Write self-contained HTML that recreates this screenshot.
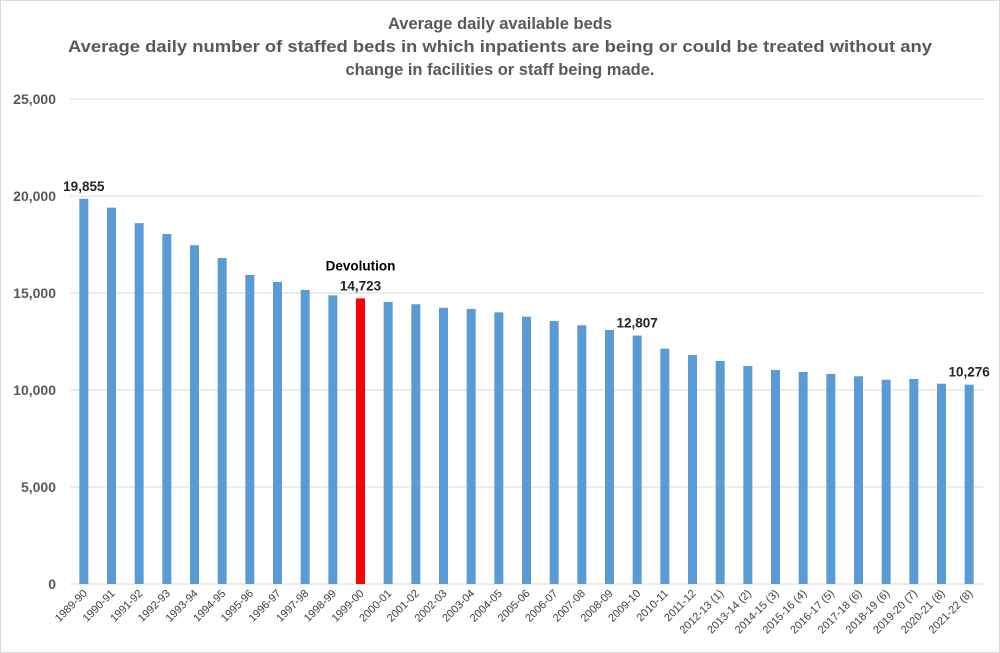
<!DOCTYPE html>
<html><head><meta charset="utf-8"><style>
html,body{margin:0;padding:0;background:#fff;}
svg{display:block;font-family:"Liberation Sans",sans-serif;}
</style></head><body>
<svg id="chart" width="1000" height="653" viewBox="0 0 1000 653">
<rect x="0.5" y="0.5" width="999" height="652" fill="#fff" stroke="#d9d9d9"/>
<g fill="#595959" font-weight="bold" font-size="17" text-anchor="middle">
<text x="500" y="29" textLength="224" lengthAdjust="spacingAndGlyphs">Average daily available beds</text>
<text x="500" y="52" textLength="864" lengthAdjust="spacingAndGlyphs">Average daily number of staffed beds in which inpatients are being or could be treated without any</text>
<text x="500" y="75" textLength="309" lengthAdjust="spacingAndGlyphs">change in facilities or staff being made.</text>
</g>
<g id="grid"></g><g id="bars"></g><g id="labels"></g>
</svg>
<script>
const categories=["1989-90","1990-91","1991-92","1992-93","1993-94","1994-95","1995-96","1996-97","1997-98","1998-99","1999-00","2000-01","2001-02","2002-03","2003-04","2004-05","2005-06","2006-07","2007-08","2008-09","2009-10","2010-11","2011-12","2012-13 (1)","2013-14 (2)","2014-15 (3)","2015-16 (4)","2016-17 (5)","2017-18 (6)","2018-19 (6)","2019-20 (7)","2020-21 (8)","2021-22 (8)"];
const values=[19855,19400,18600,18040,17460,16800,15930,15570,15160,14880,14723,14540,14420,14240,14180,14003,13780,13557,13335,13093,12807,12130,11804,11495,11237,11031,10928,10825,10705,10531,10567,10325,10276];
const yTicks=[0,5000,10000,15000,20000,25000];
const yTickLabels=["0","5,000","10,000","15,000","20,000","25,000"];
const highlightIndex=10;
const annotatedIndices=[0,10,20,32];
const NS="http://www.w3.org/2000/svg";
const X0=70,X1=983,Y0=584,Y1=99,YMAX=25000;
const step=(X1-X0)/categories.length;
function xC(i){return X0+step*(i+0.5);}
function yS(v){return Y0-(v/YMAX)*(Y0-Y1);}
function fmt(v){return v.toLocaleString('en-US');}
function mk(tag,attrs,parent){const e=document.createElementNS(NS,tag);for(const k in attrs)e.setAttribute(k,attrs[k]);parent.appendChild(e);return e;}
const grid=document.getElementById('grid'),bars=document.getElementById('bars'),labels=document.getElementById('labels');
yTicks.forEach((t,i)=>{
  const l=mk('line',{x1:X0,x2:X1,y1:yS(t),y2:yS(t),stroke:'#d9d9d9','stroke-width':1},grid);
  
  
  const tx=mk('text',{x:56,y:yS(t)+5,'text-anchor':'end','font-size':14,'font-weight':'bold',fill:'#595959'},grid);
  tx.textContent=yTickLabels[i];
  
  
});
const bw=9;
values.forEach((v,i)=>{
  const r=mk('rect',{x:xC(i)-bw/2,y:yS(v),width:bw,height:Y0-yS(v),fill:i===highlightIndex?'#ff0000':'#5b9bd5'},bars);
  
  
});
categories.forEach((c,i)=>{
  const x=xC(i),y=594;
  const t=mk('text',{x:x+4,y:y,'text-anchor':'end','font-size':11,fill:'#404040',transform:`rotate(-45 ${x+4} ${y})`},labels);
  t.textContent=c;
  
  
});
annotatedIndices.forEach(i=>{
  const t=mk('text',{x:xC(i),y:yS(values[i])-8,'text-anchor':'middle','font-size':13.5,'font-weight':'bold',fill:'#262626'},labels);
  t.textContent=fmt(values[i]);
  
  
});
const d=mk('text',{x:xC(highlightIndex),y:yS(values[highlightIndex])-28,'text-anchor':'middle','font-size':13.5,'font-weight':'bold',fill:'#000'},labels);
d.textContent='Devolution';


</script>
</body></html>
